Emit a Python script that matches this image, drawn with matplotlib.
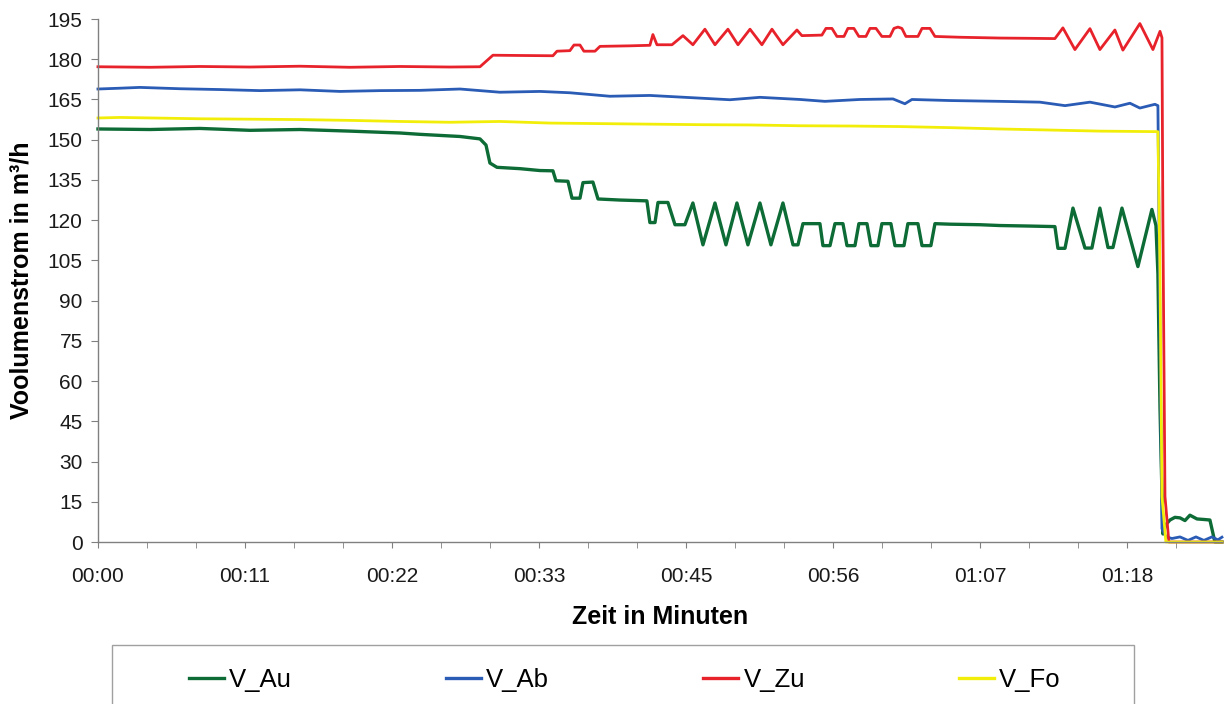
import matplotlib.pyplot as plt
from matplotlib.patches import Rectangle
from matplotlib.lines import Line2D

# Zeit in Minuten, Werte in m³/h
t_au = [0, 3.98, 7.80, 11.63, 15.46, 19.28, 23.11, 24.64, 27.70, 29.23, 29.69, 29.99, 30.53, 32.29,
        33.82, 34.81, 35.04, 35.96, 36.27, 36.88, 37.11, 37.87, 38.26, 39.94, 42.00, 42.23, 42.62,
        42.85, 43.61, 44.15, 44.91, 45.52, 46.29, 47.21, 48.05, 48.89, 49.73, 50.65, 51.49, 52.41,
        53.18, 53.56, 53.94, 55.24, 55.47, 56.01, 56.39, 57.00, 57.31, 57.92, 58.22, 58.84, 59.14,
        59.68, 59.98, 60.67, 60.98, 61.67, 61.97, 62.74, 63.05, 63.73, 64.04, 65.19, 67.48, 69.01,
        71.31, 73.22, 73.45, 73.99, 74.60, 75.52, 76.05, 76.66, 77.28, 77.66, 78.35, 79.57, 80.64,
        80.95, 81.10, 81.26, 81.48, 81.71, 82.02, 82.40, 82.79, 83.17, 83.55, 84.09, 84.62, 85.08,
        85.46, 86.00]
v_au = [154.0, 153.8, 154.2, 153.5, 153.8, 153.2, 152.5, 152.0, 151.2, 150.3, 148.0, 141.3, 139.7, 139.2,
        138.5, 138.4, 134.7, 134.5, 128.2, 128.2, 134.0, 134.2, 127.9, 127.5, 127.2, 119.1, 119.1,
        126.6, 126.6, 118.3, 118.3, 126.4, 110.8, 126.4, 110.8, 126.4, 110.8, 126.4, 110.8, 126.4,
        110.8, 110.8, 118.7, 118.7, 110.5, 110.5, 118.7, 118.7, 110.5, 110.5, 118.7, 118.7, 110.5,
        110.5, 118.7, 118.7, 110.5, 110.5, 118.7, 118.7, 110.5, 110.5, 118.7, 118.5, 118.3, 118.0,
        117.8, 117.6, 109.5, 109.5, 124.5, 109.6, 109.6, 124.5, 109.8, 109.8, 124.5, 102.7, 124.0,
        118.0, 100.0, 50.0, 3.0, 6.5, 8.2, 9.2, 9.0, 8.0, 10.0, 8.6, 8.4, 8.2,
        0.0, 0.0]

t_ab = [0, 1.68, 3.21, 6.27, 9.33, 12.39, 15.46, 18.52, 21.58, 24.64, 27.70, 30.76, 33.82, 36.11,
        39.17, 42.23, 46.06, 48.35, 50.65, 53.71, 55.62, 58.30, 60.83, 61.74, 62.28, 65.19, 69.01,
        72.07, 73.99, 75.90, 77.81, 78.96, 79.72, 80.87, 81.10, 81.26, 81.41, 81.71, 82.17, 82.79,
        83.40, 84.01, 84.62, 85.23, 85.69, 86.00]
v_ab = [168.9, 169.2, 169.5, 169.0, 168.7, 168.3, 168.6, 168.0, 168.3, 168.4, 168.9, 167.7, 168.0, 167.5,
        166.2, 166.5, 165.5, 164.9, 165.8, 165.0, 164.3, 165.0, 165.2, 163.4, 165.0, 164.6, 164.3,
        164.0, 162.7, 164.0, 162.2, 163.6, 161.8, 163.2, 162.7, 80.0, 5.0, 2.0, 1.3, 1.9,
        0.6, 1.9, 0.6, 1.9, 0.8, 1.8]

t_zu = [0, 3.98, 7.80, 11.63, 15.46, 19.28, 23.11, 26.93, 29.23, 29.76, 30.22, 32.29, 34.81, 35.12,
        36.11, 36.42, 36.88, 37.18, 38.03, 38.41, 40.70, 42.23, 42.46, 42.77, 43.92, 44.76, 45.52,
        46.44, 47.21, 48.20, 48.97, 49.89, 50.80, 51.57, 52.41, 53.48, 53.86, 55.39, 55.70, 56.16,
        56.54, 57.08, 57.38, 57.84, 58.22, 58.76, 59.07, 59.53, 59.98, 60.60, 60.90, 61.21, 61.51,
        61.82, 62.74, 63.05, 63.66, 64.04, 65.95, 69.01, 71.31, 73.22, 73.83, 74.75, 75.90, 76.66,
        77.81, 78.42, 79.72, 80.72, 81.26, 81.41, 81.48, 81.64, 81.94, 86.00]
v_zu = [177.2, 177.0, 177.3, 177.1, 177.4, 177.0, 177.3, 177.1, 177.2, 179.5, 181.5, 181.4, 181.3, 183.0,
        183.2, 185.3, 185.3, 183.0, 183.0, 184.8, 185.0, 185.2, 189.2, 185.4, 185.4, 188.8, 185.4,
        191.2, 185.4, 191.2, 185.4, 191.2, 185.4, 191.2, 185.4, 190.9, 188.8, 189.0, 191.5, 191.5,
        188.5, 188.5, 191.5, 191.5, 188.5, 188.5, 191.5, 191.5, 188.5, 188.5, 191.5, 192.0, 191.5,
        188.5, 188.5, 191.5, 191.5, 188.5, 188.2, 187.9, 187.8, 187.7, 191.7, 183.6, 191.4, 183.6,
        190.9, 183.4, 193.3, 183.6, 190.4, 188.0, 120.0, 17.0, 0.0, 0.0]

t_fo = [0, 1.68, 7.80, 15.46, 19.28, 23.11, 26.93, 30.76, 34.58, 38.41, 42.23, 46.06, 49.89, 53.71,
        57.54, 61.36, 65.19, 69.01, 72.84, 76.66, 81.10, 81.26, 81.41, 81.71, 86.00]
v_fo = [158.1, 158.3, 157.8, 157.5, 157.2, 156.8, 156.5, 156.8, 156.2, 156.0, 155.8, 155.6, 155.5, 155.2,
        155.1, 154.9, 154.5, 154.0, 153.6, 153.2, 153.0, 100.0, 17.0, 0.0, 0.0]

namen = ['V_Au', 'V_Ab', 'V_Zu', 'V_Fo']
farben = ['#0d6b35', '#2a5bb5', '#e8222b', '#f2ee0a']
x_ticks = [0, 11.25, 22.5, 33.75, 45, 56.25, 67.5, 78.75]
x_labels = ['00:00', '00:11', '00:22', '00:33', '00:45', '00:56', '01:07', '01:18']

plt.rcParams['font.family'] = ['Liberation Sans', 'DejaVu Sans']

fig = plt.figure(figsize=(12.26, 7.04), dpi=100)
ax = fig.add_axes([0.0799, 0.2301, 0.9168, 0.7429])

reihen = [(t_au, v_au), (t_ab, v_ab), (t_zu, v_zu), (t_fo, v_fo)]
for (t, v), name, c in zip(reihen, namen, farben):
    lw = 2.4 if name == 'V_Au' else 2.0
    ax.plot(t, v, color=c, lw=lw, label=name, clip_on=False, solid_joinstyle='round')

ax.set_xlim(0, 86)
ax.set_ylim(0, 195)
ax.set_yticks(range(0, 196, 15))
ax.set_xticks(x_ticks)
ax.set_xticklabels(x_labels)
ax.set_xticks([i * 3.75 for i in range(23)], minor=True)

for s in ['top', 'right']:
    ax.spines[s].set_visible(False)
for s in ['left', 'bottom']:
    ax.spines[s].set_color('#808080')
    ax.spines[s].set_linewidth(1.0)

ax.tick_params(axis='both', which='both', colors='#808080', labelcolor='#1a1a1a', labelsize=15)
ax.tick_params(axis='y', length=5, pad=6)
ax.tick_params(axis='x', which='both', length=4, pad=14)

ax.set_xlabel('Zeit in Minuten', fontsize=18, fontweight='bold', labelpad=14)
ax.set_ylabel('Voolumenstrom in m³/h', fontsize=18, fontweight='bold', labelpad=10)

# Legendenrahmen unten (ragt ueber den Bildrand hinaus)
fig.patches.append(Rectangle((112 / 1226, -0.05), (1134 - 112) / 1226, 0.05 + 59 / 704,
                             transform=fig.transFigure, fill=False, edgecolor='#a0a0a0', lw=1))
handles = [Line2D([], [], color=c, lw=2.4) for c in farben]
fig.legend(handles, namen, loc='center left', bbox_to_anchor=(189 / 1226, 1 - 680 / 704),
           ncol=4, frameon=False, fontsize=18.5, handlelength=1.36, handletextpad=0.2,
           columnspacing=6.0, borderpad=0, borderaxespad=0)

fig.savefig('out.png', dpi=100)
